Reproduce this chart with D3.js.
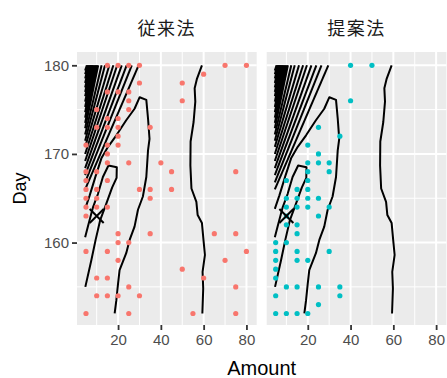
<!DOCTYPE html>
<html><head><meta charset="utf-8">
<script src="https://cdn.jsdelivr.net/npm/d3@7"></script>
<style>body{margin:0;background:#fff} svg{display:block}</style>
</head><body>
<script>
// ---------- data ----------
const facets = ["従来法", "提案法"];
const xTicks = [20, 40, 60, 80];
const xMinor = [10, 30, 50, 70];
const yTicks = [160, 170, 180];
const yMinor = [155, 165, 175];

// [Amount, Day]
const pointsConventional = [
  [15,180],[20,180],[25,180],[30,180],[70,180],[80,180],
  [60,179],
  [30,178],[50,178],
  [15,177],[20,177],[25,177],
  [25,176],[50,176],
  [10,175],[25,175],
  [15,174],[20,174],
  [10,173],[15,173],[20,173],[35,173],
  [20,172],
  [5,171],[15,171],[20,171],
  [15,170],
  [15,169],[25,169],[40,169],
  [5,168],[10,168],[45,168],[75,168],
  [5,167],[15,167],
  [5,166],[10,166],[30,166],[35,166],[45,166],
  [5,165],[10,165],[35,165],
  [5,164],[10,164],[15,164],
  [5,163],
  [20,161],[35,161],[65,161],[75,161],
  [20,160],[25,160],
  [5,159],[15,159],[80,159],
  [20,158],[70,158],
  [50,157],
  [10,156],[15,156],[60,156],
  [25,155],[75,155],
  [10,154],[15,154],[20,154],[30,154],
  [5,152],[25,152],[55,152],[75,152]
];
const pointsProposed = [
  [40,180],[50,180],
  [40,176],
  [25,173],
  [35,172],
  [20,171],
  [25,170],
  [20,169],[25,169],[30,169],
  [20,168],[30,168],
  [10,167],[20,167],
  [15,166],[20,166],
  [10,165],[15,165],[20,165],[25,165],
  [10,164],[15,164],[20,164],[30,164],
  [10,163],[25,163],
  [10,162],[15,162],
  [15,161],
  [5,160],[10,160],
  [5,159],[15,159],[30,159],
  [5,158],[15,158],[20,158],
  [5,157],
  [5,156],
  [10,155],[15,155],[25,155],[35,155],
  [5,154],[35,154],
  [25,153],
  [5,152],[10,152],[15,152],[20,152]
];

// contour lines (same surface in both facets)
const contourOuter = [
  [59.2,180],[56.9,178.5],[55.8,177.4],[56.1,175.9],[55.3,173.6],[53.9,171.4],
  [53.8,168.7],[54.3,166.1],[56.6,164.6],[57.2,163.1],[59.2,162.2],[60.0,160.1],
  [60.6,158.6],[59.5,156.7],[59.8,154.8],[59.4,152.0]
];
const contourMiddle = [
  [18.4,152.0],[19.2,153.5],[20.0,155.4],[20.7,156.9],[23.8,158.8],[25.4,160.3],
  [27.7,161.8],[29.3,163.7],[31.6,165.2],[33.2,167.4],[34.0,170.4],[34.7,171.7],
  [34.0,174.0],[33.2,176.1],[30.1,176.4],[27.7,175.1],[23.8,173.8],[19.2,172.1],
  [15.3,170.8],[12.2,169.5],[9.5,167.5],[6.7,165.3],[4.6,163.8]
];
const contourInner = [
  [4.7,155.0],[7.5,158.0],[9.5,160.3],[11.6,162.5],[14.5,164.4],[17.2,166.2],
  [19.3,167.3],[19.4,168.5],[15.5,168.7],[12.9,167.4],[10.6,165.5],[8.3,164.0],
  [5.9,161.8],[4.6,160.6]
];
// steep fan of contours in the top-left corner: from (4.6, leftDay) to (topAmount, 180)
const fanTopAmount = [29.6,26.4,24.0,21.7,19.6,17.8,15.9,13.9,12.3,10.7,
                      10.1,9.6,9.1,8.6,8.2,7.8,7.4,7.0,6.6,6.2,5.8,5.4];
const fanLeftDay   = [166.0,166.8,167.6,168.4,169.2,170.0,170.8,171.5,172.2,172.9,
                      173.5,174.1,174.7,175.3,175.9,176.5,177.0,177.5,178.0,178.5,179.0,179.4];
const fanLeftAmount = 4.6, fanTopDay = 180;
const optimum = [10, 163];

// ---------- layout ----------
const W = 447, H = 378;
const panelW = 179.7, panelH = 273, panelTop = 52;
const panelLefts = [77, 266.7];
const colors = ["#F8766D", "#00BFC4"];
const pointSets = [pointsConventional, pointsProposed];

const svg = d3.select("body").append("svg").attr("width", W).attr("height", H);
const x = d3.scaleLinear().domain([0.8, 84.8]).range([0, panelW]);
const y = d3.scaleLinear().domain([150.7, 181.5]).range([panelH, 0]);
const line = d3.line().x(d => x(d[0])).y(d => y(d[1]));
const tickFont = "'Liberation Sans', Arial, sans-serif";

const fanLines = fanTopAmount.map((t, i) => [[fanLeftAmount, fanLeftDay[i]], [t, fanTopDay]]);
const contours = [contourOuter, contourMiddle, contourInner, ...fanLines];

facets.forEach((name, fi) => {
  const g = svg.append("g").attr("transform", `translate(${panelLefts[fi]},${panelTop})`);
  g.append("rect").attr("width", panelW).attr("height", panelH).attr("fill", "#EBEBEB");
  // minor grid
  g.selectAll(".vx").data(xMinor).join("line")
    .attr("x1", d => x(d)).attr("x2", d => x(d)).attr("y1", 0).attr("y2", panelH)
    .attr("stroke", "#fff").attr("stroke-width", 1);
  g.selectAll(".hy").data(yMinor).join("line")
    .attr("y1", d => y(d)).attr("y2", d => y(d)).attr("x1", 0).attr("x2", panelW)
    .attr("stroke", "#fff").attr("stroke-width", 1);
  // major grid
  g.selectAll(".vX").data(xTicks).join("line")
    .attr("x1", d => x(d)).attr("x2", d => x(d)).attr("y1", 0).attr("y2", panelH)
    .attr("stroke", "#fff").attr("stroke-width", 2);
  g.selectAll(".hY").data(yTicks).join("line")
    .attr("y1", d => y(d)).attr("y2", d => y(d)).attr("x1", 0).attr("x2", panelW)
    .attr("stroke", "#fff").attr("stroke-width", 2);

  // contours
  g.selectAll(".ct").data(contours).join("path")
    .attr("d", line).attr("fill", "none").attr("stroke", "#000")
    .attr("stroke-width", 2).attr("stroke-linejoin", "round");

  // points
  g.selectAll(".pt").data(pointSets[fi]).join("circle")
    .attr("cx", d => x(d[0])).attr("cy", d => y(d[1])).attr("r", 2.6)
    .attr("fill", colors[fi]);

  // optimum marker (x shape)
  const ox = x(optimum[0]), oy = y(optimum[1]), s = 7;
  g.append("path")
    .attr("d", `M${ox - s},${oy - s}L${ox + s},${oy + s}M${ox - s},${oy + s}L${ox + s},${oy - s}`)
    .attr("stroke", "#000").attr("stroke-width", 2).attr("fill", "none");

  // x axis
  const xa = g.append("g").attr("transform", `translate(0,${panelH})`)
    .call(d3.axisBottom(x).tickValues(xTicks).tickSize(5).tickPadding(4));
  xa.select(".domain").remove();
  xa.selectAll("line").attr("stroke", "#333").attr("stroke-width", 1.8);
  xa.selectAll("text").attr("fill", "#4D4D4D").style("font-size", "15px").style("font-family", tickFont);

  // y axis only on first facet
  if (fi === 0) {
    const ya = g.append("g")
      .call(d3.axisLeft(y).tickValues(yTicks).tickSize(5).tickPadding(3));
    ya.select(".domain").remove();
    ya.selectAll("line").attr("stroke", "#333").attr("stroke-width", 1.8);
    ya.selectAll("text").attr("fill", "#4D4D4D").style("font-size", "15px").style("font-family", tickFont);
  }

  // facet label
  svg.append("text").attr("x", panelLefts[fi] + panelW / 2).attr("y", 35)
    .attr("text-anchor", "middle").attr("fill", "#1A1A1A")
    .style("font-family", "'Noto Sans CJK JP', sans-serif").style("font-size", "18px")
    .style("letter-spacing", "1.5px").text(name);
});

// axis titles
svg.append("text").attr("x", (panelLefts[0] + panelLefts[1] + panelW) / 2).attr("y", 375)
  .attr("text-anchor", "middle").style("font-family", tickFont).style("font-size", "20px").text("Amount");
svg.append("text").attr("transform", `translate(26,${panelTop + panelH / 2}) rotate(-90)`)
  .attr("text-anchor", "middle").style("font-family", tickFont).style("font-size", "18px").text("Day");
</script>
</body></html>
